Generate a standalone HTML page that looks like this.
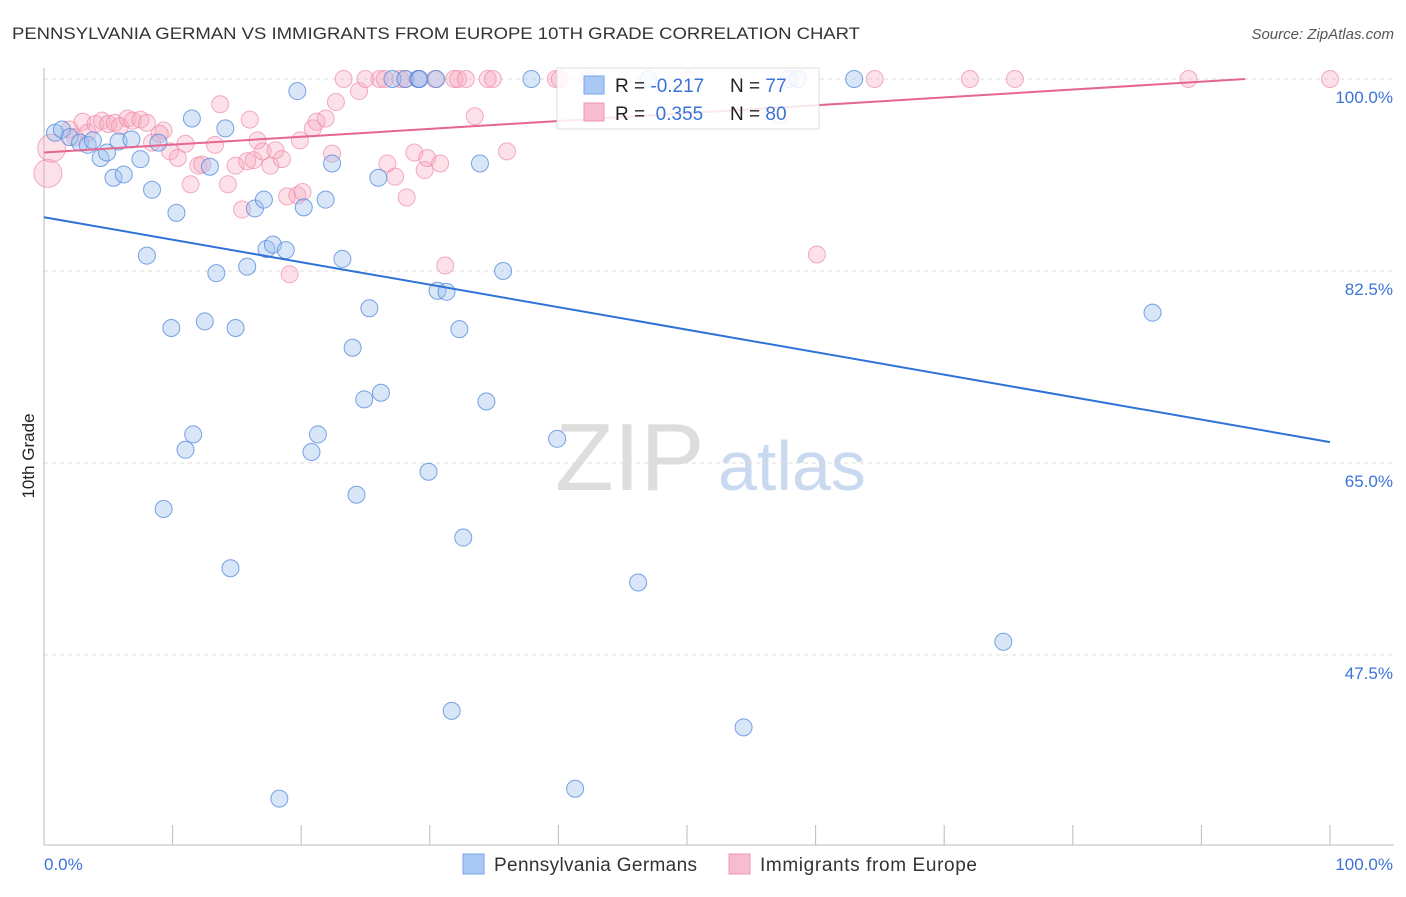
<!DOCTYPE html>
<html><head><meta charset="utf-8"><style>
body{margin:0;background:#fff;font-family:"Liberation Sans",sans-serif;}
svg text{font-family:"Liberation Sans",sans-serif;}
</style></head><body>
<svg id="chart" width="1406" height="892">
<text x="12" y="39" font-size="17" fill="#333" textLength="848" lengthAdjust="spacingAndGlyphs">PENNSYLVANIA GERMAN VS IMMIGRANTS FROM EUROPE 10TH GRADE CORRELATION CHART</text>
<text x="1394" y="39" font-size="15" fill="#555" font-style="italic" text-anchor="end">Source: ZipAtlas.com</text>
<text x="34" y="456" font-size="17" fill="#222" transform="rotate(-90 34 456)" text-anchor="middle">10th Grade</text>
<g>
<text x="555" y="490" font-size="96" font-family="Liberation Serif" fill="#ddd">ZIP</text>
<text x="718" y="490" font-size="70" fill="#c9d9f0">atlas</text>
</g>
<g id="grid"></g><g id="axes"></g><g id="pink"></g><g id="blue"></g><g id="trends"></g>
<g>
<rect x="557" y="68" width="262" height="61" fill="#fff" fill-opacity="0.85" stroke="#ddd"/>
<rect x="584" y="76" width="20" height="18" fill="#a9c8f3" stroke="#7aa6e6"/>
<rect x="584" y="103" width="20" height="18" fill="#f7bccd" stroke="#ef98b2"/>
<text x="615" y="92" font-size="19" fill="#222">R = <tspan fill="#3b73d6">-0.217</tspan></text>
<text x="730" y="92" font-size="19" fill="#222">N = <tspan fill="#3b73d6">77</tspan></text>
<text x="615" y="120" font-size="19" fill="#222">R = <tspan fill="#3b73d6">&#160;0.355</tspan></text>
<text x="730" y="120" font-size="19" fill="#222">N = <tspan fill="#3b73d6">80</tspan></text>
</g>
<g>
<rect x="463" y="854" width="21" height="20" fill="#a9c8f3" stroke="#7aa6e6"/>
<text x="494" y="871" font-size="19" fill="#333" textLength="203">Pennsylvania Germans</text>
<rect x="729" y="854" width="21" height="20" fill="#f7bccd" stroke="#ef98b2"/>
<text x="760" y="871" font-size="19" fill="#333" textLength="217">Immigrants from Europe</text>
</g>
</svg>
<script>
const yTicks=[47.5,65.0,82.5,100.0];
const xTickCount=10;
const blueX=[0.86,1.4,2.0,2.8,3.4,3.8,4.4,4.9,5.4,5.8,6.2,6.8,7.5,8.0,8.4,8.9,9.9,10.3,11.5,11.6,11.0,9.3,12.5,12.9,13.4,14.1,14.5,14.9,15.8,16.4,17.1,17.3,17.8,18.3,18.8,19.7,20.2,20.8,21.3,21.9,22.4,23.2,24.0,24.3,24.9,25.3,26.0,26.2,27.1,28.1,29.1,29.2,30.5,30.6,31.3,29.9,31.7,32.3,32.6,33.9,34.4,35.7,37.9,39.9,41.3,46.2,47.0,54.4,57.9,58.6,63.0,74.6,86.2];
const blueY=[95.1,95.4,94.7,94.2,94.0,94.4,92.8,93.3,91.0,94.3,91.3,94.5,92.7,83.9,89.9,94.2,77.3,87.8,96.4,67.6,66.2,60.8,77.9,92.0,82.3,95.5,55.4,77.3,82.9,88.2,89.0,84.5,84.9,34.4,84.4,98.9,88.3,66.0,67.6,89.0,92.3,83.6,75.5,62.1,70.8,79.1,91.0,71.4,100,100,100,100,100,80.7,80.6,64.2,42.4,77.2,58.2,92.3,70.6,82.5,100,67.2,35.3,54.1,100,40.9,100,100,100,48.7,78.7];
const pinkX=[0.3,0.6,2.0,2.4,3.0,3.4,4.0,4.5,5.0,5.5,5.9,6.5,6.9,7.5,8.0,8.4,9.3,9.8,10.4,11.0,11.4,12.0,12.3,13.3,13.7,14.3,14.9,15.4,15.8,16.3,16.6,17.0,17.6,18.0,18.5,19.1,18.9,19.7,20.1,20.9,21.2,21.9,22.4,22.7,23.3,24.5,25.0,26.1,26.5,26.7,27.3,27.7,28.1,28.2,29.1,28.8,29.6,29.8,30.4,31.2,31.9,32.2,32.8,33.5,34.5,34.9,36.0,39.8,40.1,42.3,50.1,57.2,60.1,64.6,72.0,75.5,89.0,100,30.8,19.9,16.0,9.0];
const pinkY=[91.4,93.7,95.4,94.7,96.1,95.1,95.9,96.2,95.9,96.0,95.7,96.4,96.2,96.3,96.0,94.2,95.3,93.4,92.8,94.1,90.4,92.1,92.2,94.0,97.7,90.4,92.1,88.1,92.5,92.6,94.4,93.4,92.1,93.5,92.7,82.2,89.3,89.4,89.7,95.5,96.1,96.4,93.2,97.9,100,98.9,100,100,100,92.3,91.1,100,100,89.2,100,93.3,91.7,92.8,100,83.0,100,100,100,96.6,100,100,93.4,100,100,100,100,96.7,84.0,100,100,100,100,100,92.3,94.4,96.3,95.0];
const blueTrendX=[0,100], blueTrendY=[87.4,66.9];
const pinkTrendX=[0,93.4], pinkTrendY=[93.3,100];
const X0=44,X1=1330,YT=100;
const sx=v=>X0+(v/100)*(X1-X0);
const sy=v=>79+(YT-v)*10.97;
const NS="http://www.w3.org/2000/svg";
function mk(t,a,p){const e=document.createElementNS(NS,t);for(const k in a)e.setAttribute(k,a[k]);p.appendChild(e);return e;}
const grid=document.getElementById('grid'),axes=document.getElementById('axes');
yTicks.forEach(t=>{
 const l=mk('line',{x1:44,x2:1394,y1:sy(t),y2:sy(t),stroke:'#ddd','stroke-dasharray':'4,4'},grid);
 
 
 const tx=mk('text',{x:1393,y:sy(t)+24,'font-size':17,fill:'#3b73d6','text-anchor':'end'},grid);
 tx.textContent=t.toFixed(1)+'%';
 
 
});
const ya=mk('line',{x1:44,x2:44,y1:68,y2:845,stroke:'#bbb'},axes);


const xa=mk('line',{x1:44,x2:1394,y1:845,y2:845,stroke:'#bbb'},axes);


for(let i=0;i<=xTickCount;i++){
 const x=sx(i*100/xTickCount);
 const tk=mk('line',{x1:x,x2:x,y1:825,y2:845,stroke:'#bbb'},axes);
 
 
}
const xl=mk('text',{x:44,y:870,'font-size':17,fill:'#3b73d6'},axes);xl.textContent='0.0%';


const xr=mk('text',{x:1393,y:870,'font-size':17,fill:'#3b73d6','text-anchor':'end'},axes);xr.textContent='100.0%';


const pg=document.getElementById('pink'),bg=document.getElementById('blue');
pinkX.forEach((v,i)=>{
 const r=i<2?14:8.5;
 const c=mk('circle',{cx:sx(v),cy:sy(pinkY[i]),r:r,fill:'#f7a8c0','fill-opacity':0.35,stroke:'#ee8aa9','stroke-opacity':0.7,'stroke-width':1},pg);
 
 
});
blueX.forEach((v,i)=>{
 const c=mk('circle',{cx:sx(v),cy:sy(blueY[i]),r:8.5,fill:'#9ec0ee','fill-opacity':0.4,stroke:'#4f86dc','stroke-opacity':0.75,'stroke-width':1},bg);
 
 
});
const tg=document.getElementById('trends');
const bl=mk('line',{x1:sx(blueTrendX[0]),y1:sy(blueTrendY[0]),x2:sx(blueTrendX[1]),y2:sy(blueTrendY[1]),stroke:'#2e72d8','stroke-width':2},tg);


const pl=mk('line',{x1:sx(pinkTrendX[0]),y1:sy(pinkTrendY[0]),x2:sx(pinkTrendX[1]),y2:sy(pinkTrendY[1]),stroke:'#e5668f','stroke-width':2},tg);


</script>
</body></html>
